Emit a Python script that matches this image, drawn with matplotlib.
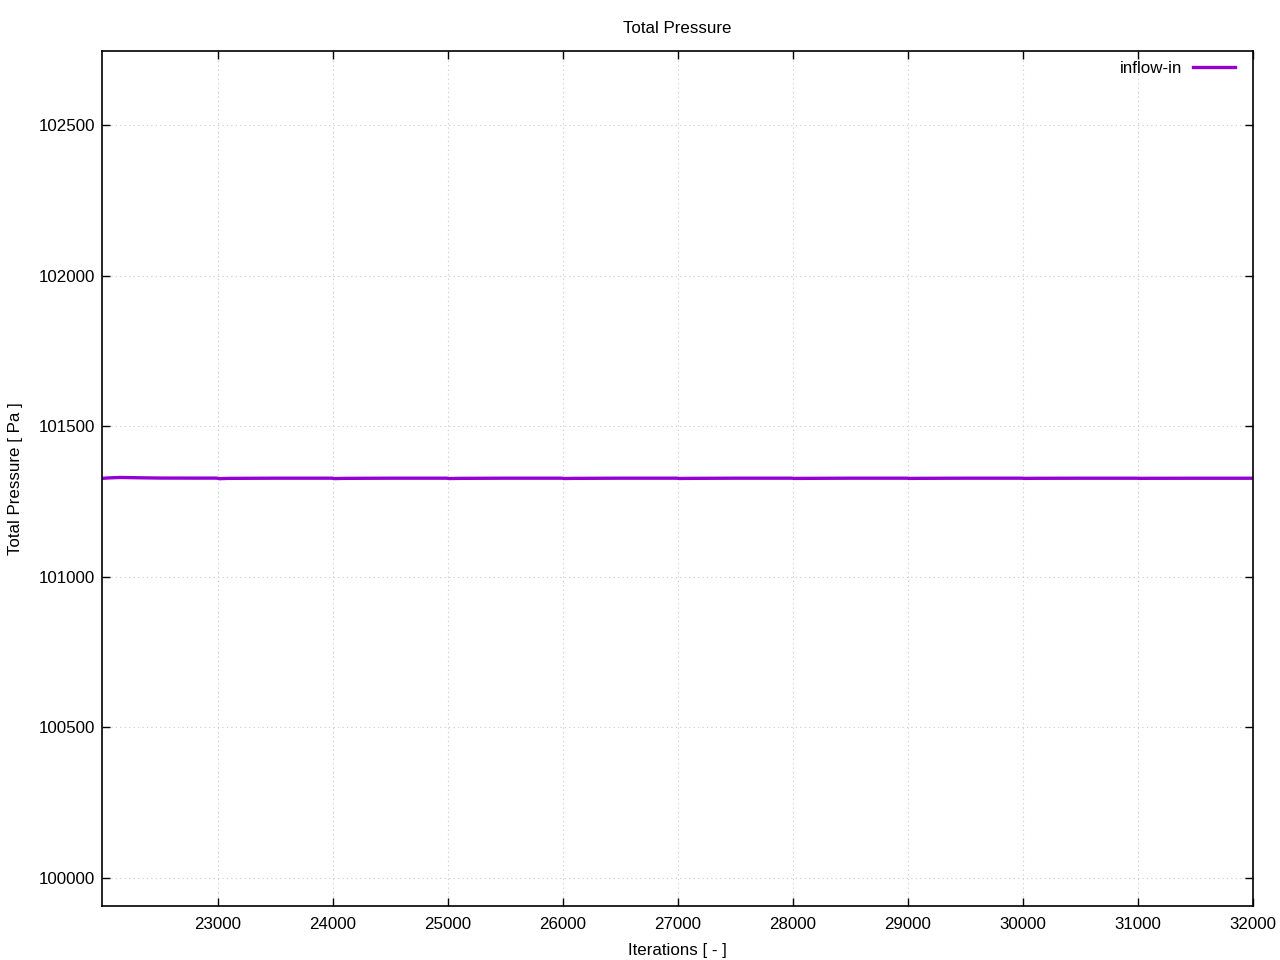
import matplotlib
matplotlib.use("Agg")
import matplotlib.pyplot as plt

plt.rcParams['font.family'] = ['Liberation Sans', 'DejaVu Sans']

iterations = [21991, 22050, 22150, 22300, 22500, 22800, 22990, 23010, 23100, 23500,
              23990, 24010, 24100, 24500, 24990, 25010, 25100, 25500, 25990, 26010,
              26100, 26500, 26990, 27010, 27100, 27500, 27990, 28010, 28100, 28500,
              28990, 29010, 29100, 29500, 29990, 30010, 30100, 30500, 30990, 31010,
              31100, 31500, 31990, 32000]
pressure = [101327.0, 101328.5, 101330.0, 101329.0, 101328.0, 101327.8, 101327.8, 101326.0, 101327.0, 101327.6,
            101327.6, 101326.2, 101327.0, 101327.6, 101327.6, 101326.4, 101327.0, 101327.6, 101327.6, 101326.5,
            101327.0, 101327.6, 101327.6, 101326.6, 101327.0, 101327.6, 101327.6, 101326.7, 101327.0, 101327.6,
            101327.6, 101326.8, 101327.1, 101327.6, 101327.6, 101326.9, 101327.2, 101327.5, 101327.5, 101327.0,
            101327.2, 101327.4, 101327.4, 101327.4]
xticks = [23000, 24000, 25000, 26000, 27000, 28000, 29000, 30000, 31000, 32000]
yticks = [100000, 100500, 101000, 101500, 102000, 102500]

fs = 12.2
fig = plt.figure(figsize=(12.8, 9.6), dpi=100)
ax = fig.add_axes([0.0797, 0.05625, 0.8992, 0.8906])
ax.plot(iterations, pressure, color='#9400D3', lw=2.4, label='inflow-in')
ax.set_xlim(21991, 32000)
ax.set_ylim(99907, 102746)
ax.set_xticks(xticks)
ax.set_yticks(yticks)
ax.tick_params(direction='in', top=True, right=True, labelsize=fs, length=6, width=1)
ax.tick_params(axis='x', pad=8)
ax.tick_params(axis='y', pad=5)
ax.grid(True, color='#c8c8c8', linestyle=(0, (1, 3)), linewidth=0.8)
for s in ax.spines.values():
    s.set_linewidth(1.2)
ax.set_title('Total Pressure', fontsize=fs, pad=13)
ax.set_xlabel('Iterations [ - ]', fontsize=fs, labelpad=8)
ax.set_ylabel('Total Pressure [ Pa ]', fontsize=fs, labelpad=11)
ax.legend(loc='upper right', frameon=False, markerfirst=False, fontsize=fs,
          handlelength=2.5, borderaxespad=0, borderpad=0, handletextpad=0.6,
          bbox_to_anchor=(0.9844, 0.988))
fig.savefig('out.png', dpi=100)
